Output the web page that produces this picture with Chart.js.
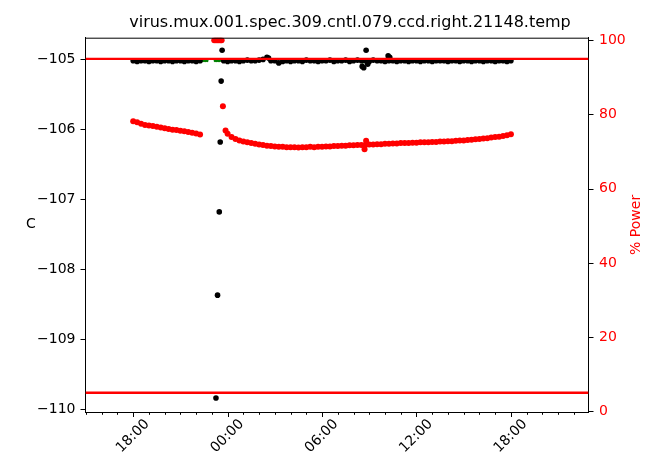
<!DOCTYPE html>
<html>
<head>
<meta charset="utf-8">
<style>
  html, body { margin: 0; padding: 0; background: #fff; }
  #wrap { width: 653px; height: 462px; }
</style>
<script src="https://cdn.jsdelivr.net/npm/chart.js@4.4.0/dist/chart.umd.min.js"></script>
</head>
<body>
<div id="wrap"><canvas id="chart" width="653" height="462"></canvas></div>
<script>
// hours counted from midnight of the first day (24 = 00:00 next day)
const tempHours = [
    18, 18.25, 18.5, 18.75, 19, 19.25, 19.5, 19.75, 20, 20.25, 20.5, 20.75, 21, 21.25, 21.5, 21.75, 22, 22.25,
    23.26, 23.36, 23.47, 23.53, 23.59, 23.65,
    23.75, 24, 24.25, 24.5, 24.75, 25, 25.25, 25.5, 25.75, 26,
    26.25, 26.5, 26.6, 26.75, 27, 27.25, 27.5, 27.75, 28, 28.25,
    28.5, 28.75, 29, 29.25, 29.5, 29.75, 30, 30.25, 30.5, 30.75,
    31, 31.25, 31.5, 31.75, 32, 32.25, 32.5, 32.55, 32.65, 32.75,
    32.8, 32.9, 33, 33.25, 33.5, 33.75, 34, 34.2, 34.25, 34.3,
    34.5, 34.75, 35, 35.25, 35.5, 35.75, 36, 36.25, 36.5, 36.75,
    37, 37.25, 37.5, 37.75, 38, 38.25, 38.5, 38.75, 39, 39.25,
    39.5, 39.75, 40, 40.25, 40.5, 40.75, 41, 41.25, 41.5, 41.75,
    42
];
const tempValues = [
    -105.02, -105.03, -105.02, -105.02, -105.03, -105.02, -105.02, -105.03, -105.02, -105.02, -105.03, -105.02, -105.02, -105.03, -105.02, -105.02, -105.03, -105.02,
    -109.84, -108.37, -107.18, -106.18, -105.31, -104.87,
    -105.02, -105.03, -105.02, -105.02, -105.03, -105.02, -105.01, -105.02, -105.02, -105.01,
    -105.0, -104.97, -104.98, -105.02, -105.02, -105.05, -105.03, -105.02, -105.03, -105.02,
    -105.02, -105.03, -105.01, -105.02, -105.02, -105.03, -105.02, -105.02, -105.01, -105.03,
    -105.02, -105.02, -105.01, -105.03, -105.02, -105.01, -105.02, -105.10, -105.12, -105.02,
    -104.87, -105.07, -105.03, -105.01, -105.02, -105.02, -105.03, -104.95, -105.02, -104.97,
    -105.02, -105.03, -105.02, -105.02, -105.03, -105.02, -105.02, -105.03, -105.02, -105.02,
    -105.03, -105.02, -105.02, -105.02, -105.03, -105.02, -105.02, -105.03, -105.02, -105.02,
    -105.03, -105.02, -105.02, -105.03, -105.02, -105.02, -105.03, -105.02, -105.02, -105.03,
    -105.02
];

const powerHours = [
    18, 18.25, 18.5, 18.75, 19, 19.25, 19.5, 19.75, 20, 20.25, 20.5, 20.75, 21, 21.25, 21.5, 21.75, 22, 22.25,
    23.15, 23.25, 23.35, 23.45, 23.55, 23.62, 23.7,
    23.87, 24, 24.25, 24.5, 24.75, 25, 25.25, 25.5, 25.75, 26,
    26.25, 26.5, 26.75, 27, 27.25, 27.5, 27.75, 28, 28.25, 28.5,
    28.75, 29, 29.25, 29.5, 29.75, 30, 30.25, 30.5, 30.75, 31,
    31.25, 31.5, 31.75, 32, 32.25, 32.5, 32.7, 32.75, 32.8, 33,
    33.25, 33.5, 33.75, 34, 34.25, 34.5, 34.75, 35, 35.25, 35.5,
    35.75, 36, 36.25, 36.5, 36.75, 37, 37.25, 37.5, 37.75, 38,
    38.25, 38.5, 38.75, 39, 39.25, 39.5, 39.75, 40, 40.25, 40.5,
    40.75, 41, 41.25, 41.5, 41.75, 42
];
const powerValues = [
    78.2, 77.9, 77.5, 77.2, 77.0, 76.9, 76.7, 76.5, 76.3, 76.1, 75.9, 75.8, 75.6, 75.5, 75.3, 75.1, 74.9, 74.6,
    100, 100, 100, 100, 100, 100, 82.2,
    75.7, 74.8, 73.9, 73.4, 73.0, 72.7, 72.5, 72.3, 72.1, 71.9,
    71.8, 71.6, 71.5, 71.4, 71.3, 71.3, 71.2, 71.2, 71.2, 71.1,
    71.2, 71.2, 71.3, 71.2, 71.3, 71.3, 71.4, 71.4, 71.5, 71.5,
    71.6, 71.6, 71.7, 71.7, 71.8, 71.8, 70.6, 71.8, 72.9, 71.9,
    71.9, 72.0, 72.0, 72.1, 72.1, 72.2, 72.2, 72.3, 72.3, 72.3,
    72.4, 72.4, 72.5, 72.5, 72.5, 72.6, 72.6, 72.7, 72.7, 72.8,
    72.8, 72.9, 73.0, 73.0, 73.1, 73.2, 73.3, 73.4, 73.5, 73.6,
    73.8, 73.9, 74.0, 74.2, 74.4, 74.7
];

const setHours = [22.4, 22.5, 22.6, 22.7, 23.2, 23.3, 23.4, 23.5, 32.6];
const setValues = [-105.02, -105.02, -105.02, -105.02, -105.02, -105.02, -105.02, -105.02, -105.04];

const powerLimits = [95, 5];

const xMin = 14.97, xMax = 46.93;
const tempMin = -110.04, tempMax = -104.69;
const powerMin = -0.2, powerMax = 100.7;

const FONT = 'DejaVu Sans';
const TITLE = 'virus.mux.001.spec.309.cntl.079.ccd.right.21148.temp';

function pts(xs, ys) {
    return xs.map((x, i) => ({ x: x, y: ys[i] }));
}

function hourLabel(v) {
    if (Math.abs(v % 6) > 1e-6) return '';
    const h = ((v % 24) + 24) % 24;
    return String(h).padStart(2, '0') + ':00';
}

// matplotlib-like frame: outward ticks (major/minor), top spine, title and axis labels
const framePlugin = {
    id: 'frame',
    afterDraw(chart) {
        const ctx = chart.ctx;
        const a = chart.chartArea;
        const xs = chart.scales.x, ys = chart.scales.y, ys2 = chart.scales.y2;
        ctx.save();
        ctx.strokeStyle = '#000';
        ctx.lineWidth = 1;
        ctx.beginPath();
        ctx.moveTo(a.left, a.top + 0.5);
        ctx.lineTo(a.right, a.top + 0.5);
        xs.ticks.forEach(t => {
            const px = Math.round(xs.getPixelForValue(t.value)) + 0.5;
            const len = Math.abs(t.value % 6) < 1e-6 ? 5 : 2.8;
            ctx.moveTo(px, a.bottom);
            ctx.lineTo(px, a.bottom + len);
        });
        ys.ticks.forEach(t => {
            const py = Math.round(ys.getPixelForValue(t.value)) + 0.5;
            ctx.moveTo(a.left - 5, py);
            ctx.lineTo(a.left, py);
        });
        ys2.ticks.forEach(t => {
            const py = Math.round(ys2.getPixelForValue(t.value)) + 0.5;
            ctx.moveTo(a.right, py);
            ctx.lineTo(a.right + 5, py);
        });
        ctx.stroke();

        ctx.fillStyle = '#000';
        ctx.textAlign = 'center';
        ctx.textBaseline = 'alphabetic';
        ctx.font = '16px "' + FONT + '"';
        ctx.fillText(TITLE, 350, 27);

        ctx.font = '14px "' + FONT + '"';
        ctx.textBaseline = 'middle';
        ctx.fillText('C', 31, (a.top + a.bottom) / 2);
        ctx.translate(636, (a.top + a.bottom) / 2);
        ctx.rotate(-Math.PI / 2);
        ctx.fillStyle = '#ff0000';
        ctx.fillText('% Power', 0, 0);
        ctx.restore();
    }
};

const ctx = document.getElementById('chart').getContext('2d');
const chart = new Chart(ctx, {
    type: 'scatter',
    data: {
        datasets: [{
            type: 'line',
            label: 'upper limit',
            data: [{ x: xMin, y: powerLimits[0] }, { x: xMax, y: powerLimits[0] }],
            yAxisID: 'y2',
            borderColor: '#ff0000',
            borderWidth: 2.4,
            pointRadius: 0,
            order: 0
        }, {
            type: 'line',
            label: 'lower limit',
            data: [{ x: xMin, y: powerLimits[1] }, { x: xMax, y: powerLimits[1] }],
            yAxisID: 'y2',
            borderColor: '#ff0000',
            borderWidth: 2.4,
            pointRadius: 0,
            order: 0
        }, {
            label: '% Power',
            data: pts(powerHours, powerValues),
            yAxisID: 'y2',
            backgroundColor: '#ff0000',
            pointRadius: 3.0,
            pointBorderWidth: 0,
            order: 1
        }, {
            label: 'temp',
            data: pts(tempHours, tempValues),
            yAxisID: 'y',
            backgroundColor: '#000000',
            pointRadius: 2.8,
            pointBorderWidth: 0,
            order: 2
        }, {
            label: 'setpoint',
            data: pts(setHours, setValues),
            yAxisID: 'y',
            backgroundColor: '#008000',
            pointRadius: 1.4,
            pointBorderWidth: 0,
            order: 3
        }]
    },
    options: {
        responsive: false,
        devicePixelRatio: 1,
        animation: false,
        layout: { padding: { top: 37.7 } },
        plugins: {
            legend: { display: false },
            tooltip: { enabled: false },
            title: { display: false }
        },
        scales: {
            x: {
                type: 'linear',
                position: 'bottom',
                min: xMin,
                max: xMax,
                afterFit: s => { s.height = 50; },
                grid: { display: false, drawTicks: false },
                border: { display: true, color: '#000', width: 1 },
                ticks: {
                    stepSize: 1,
                    includeBounds: false,
                    autoSkip: false,
                    maxRotation: 45,
                    minRotation: 45,
                    padding: 4,
                    labelOffset: 14,
                    color: '#000',
                    font: { family: FONT, size: 14 },
                    callback: v => hourLabel(v)
                }
            },
            y: {
                position: 'left',
                min: tempMin,
                max: tempMax,
                afterFit: s => { s.width = 85.5; },
                grid: { display: false, drawTicks: false },
                border: { display: true, color: '#000', width: 1 },
                ticks: {
                    stepSize: 1,
                    includeBounds: false,
                    padding: 10,
                    color: '#000',
                    font: { family: FONT, size: 14 },
                    callback: v => '\u2212' + Math.abs(v)
                }
            },
            y2: {
                position: 'right',
                min: powerMin,
                max: powerMax,
                afterFit: s => { s.width = 64.5; },
                grid: { display: false, drawTicks: false },
                border: { display: true, color: '#000', width: 1 },
                ticks: {
                    stepSize: 20,
                    includeBounds: false,
                    padding: 10.5,
                    color: '#ff0000',
                    font: { family: FONT, size: 14 }
                }
            }
        }
    },
    plugins: [framePlugin]
});
</script>
</body>
</html>
